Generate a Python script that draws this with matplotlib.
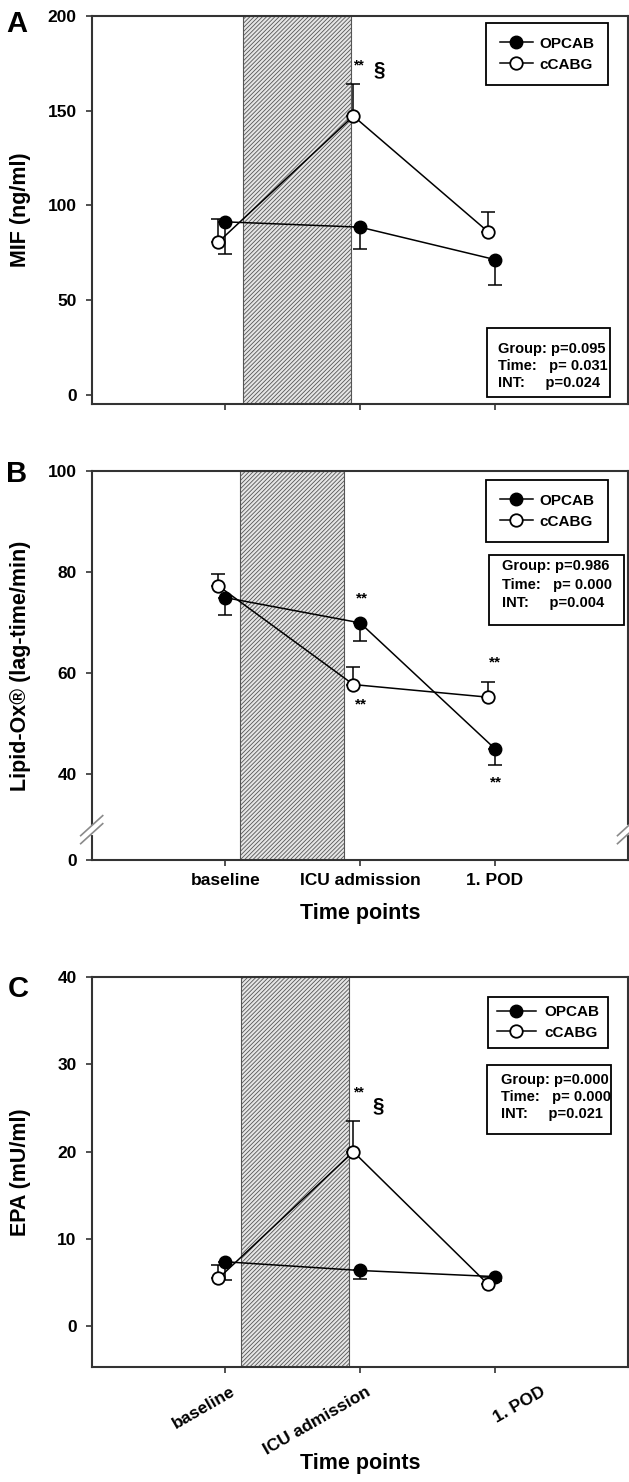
import numpy as np
import matplotlib.pyplot as plt
from matplotlib.patches import Rectangle
from matplotlib.transforms import ScaledTranslation

plt.rcParams['font.family'] = ['Liberation Sans', 'DejaVu Sans']
plt.rcParams['font.weight'] = 'bold'
plt.rcParams['hatch.linewidth'] = 0.6

time_points = ["baseline", "ICU admission", "1. POD"]
x_pos = np.array([1, 2, 3])

# A: MIF (ng/ml), mean and SEM
mif_opcab = [91.3, 88.5, 71.4]
mif_opcab_sem = [16.8, 11.5, 13.3]
mif_ccabg = [80.7, 147.1, 86.0]
mif_ccabg_sem = [12.3, 16.8, 10.4]
mif_stats = ["Group: p=0.095", "Time:   p= 0.031", "INT:     p=0.024"]

# B: Lipid-Ox (lag-time/min)
lox_opcab = [74.9, 69.9, 45.0]
lox_opcab_sem = [3.5, 3.6, 3.2]
lox_ccabg = [77.2, 57.7, 55.2]
lox_ccabg_sem = [2.3, 3.4, 3.0]
lox_stats = ["Group: p=0.986", "Time:   p= 0.000", "INT:     p=0.004"]

# C: EPA (mU/ml)
epa_opcab = [7.4, 6.4, 5.7]
epa_opcab_sem = [2.1, 1.0, 0.5]
epa_ccabg = [5.5, 20.0, 4.8]
epa_ccabg_sem = [1.5, 3.5, 0.8]
epa_stats = ["Group: p=0.000", "Time:   p= 0.000", "INT:     p=0.021"]

SHIFT = -0.05   # cCABG points sit a little left of the tick
LINE = '#333333'


def draw_panel(ax, opcab, opcab_sem, ccabg, ccabg_sem, stats, ylim, ylabel,
               span, leg_top, leg_kw, box, stat_x, stat_ys):
    ax.axvspan(span[0], span[1], facecolor='#e6e6e6', edgecolor='#555555',
               hatch='////////', lw=0.8, zorder=1)
    zeros = np.zeros(3)
    ax.errorbar(x_pos, opcab, yerr=[opcab_sem, zeros], fmt='none', ecolor='black',
                elinewidth=1.1, capsize=4.7, capthick=1.1, zorder=2)
    ax.errorbar(x_pos + SHIFT, ccabg, yerr=[zeros, ccabg_sem], fmt='none', ecolor='black',
                elinewidth=1.1, capsize=4.7, capthick=1.1, zorder=2)
    ax.plot(x_pos, opcab, '-o', color='black', ms=9, lw=1.1, zorder=3, label='OPCAB')
    ax.plot(x_pos + SHIFT, ccabg, '-o', color='black', mfc='white', mec='black',
            mew=1.3, ms=9, lw=1.1, zorder=4, label='cCABG')

    ax.set_xlim(0.01, 3.99)
    ax.set_ylim(*ylim)
    ax.set_xticks(x_pos)
    ax.set_ylabel(ylabel, fontsize=15.5, fontweight='bold')
    ax.yaxis.set_label_coords(-0.113, 0.5)
    for s in ax.spines.values():
        s.set_color(LINE)
        s.set_linewidth(1.5)
    ax.tick_params(axis='y', direction='out', length=4.3, width=1.2, pad=6.5,
                   labelsize=12.5, color=LINE)
    ax.tick_params(axis='x', direction='out', length=4.5, width=1.2, pad=5,
                   labelsize=12.5, color=LINE)

    leg = ax.legend(loc='upper right', bbox_to_anchor=(0.962, leg_top), borderaxespad=0,
                    fancybox=False, edgecolor='black', framealpha=1, fontsize=11,
                    **leg_kw)
    leg.get_frame().set_linewidth(1.3)

    x0, y0, x1, y1 = box
    ax.add_patch(Rectangle((x0, y0), x1 - x0, y1 - y0, transform=ax.transAxes,
                           facecolor='white', edgecolor='black', lw=1.3, zorder=5))
    for line, yy in zip(stats, stat_ys):
        ax.text(stat_x, yy, line, transform=ax.transAxes, fontsize=10.5,
                fontweight='bold', va='center', ha='left', zorder=6)


fig = plt.figure(figsize=(6.29, 14.82), dpi=100)
left, width = 0.1458, 0.8534
axA = fig.add_axes([left, 0.7272, width, 0.2622])
axB = fig.add_axes([left, 0.4197, width, 0.2627])
axC = fig.add_axes([left, 0.0779, width, 0.2628])

wide_leg = dict(handlelength=2.2, handletextpad=0.4, borderpad=0.9, labelspacing=0.45)
tight_leg = dict(handlelength=2.6, handletextpad=0.55, borderpad=0.55, labelspacing=0.45)

# A
draw_panel(axA, mif_opcab, mif_opcab_sem, mif_ccabg, mif_ccabg_sem, mif_stats,
           (-4.9, 200), "MIF (ng/ml)", (1.129, 1.929), 0.981, wide_leg,
           (0.7364, 0.0196, 0.9655, 0.1971), 0.757, (0.1431, 0.0994, 0.0556))
axA.set_yticks([0, 50, 100, 150, 200])
axA.set_xticklabels([])
axA.text(1.984, 171.5, "**", fontsize=10, ha='center', va='baseline')
axA.text(2.143, 168.5, "§", fontsize=15, ha='center', va='baseline')

# B (broken y axis: 0 shown at the bottom, 30..100 linear)
draw_panel(axB, lox_opcab, lox_opcab_sem, lox_ccabg, lox_ccabg_sem, lox_stats,
           (23, 100), "Lipid-Ox® (lag-time/min)", (1.108, 1.882), 0.976, wide_leg,
           (0.740, 0.6036, 0.9914, 0.7835), 0.7643, (0.754, 0.707, 0.661))
axB.set_yticks([23, 40, 60, 80, 100])
axB.set_yticklabels(['0', '40', '60', '80', '100'])
axB.set_xticklabels(time_points)
axB.set_xlabel("Time points", fontsize=15.5, fontweight='bold')
axB.xaxis.set_label_coords(0.5, -0.110)
axB.text(2.013, 73.9, "**", fontsize=11, ha='center', va='baseline')
axB.text(2.01, 52.9, "**", fontsize=11, ha='center', va='baseline')
axB.text(2.998, 61.2, "**", fontsize=11, ha='center', va='baseline')
axB.text(3.01, 37.6, "**", fontsize=11, ha='center', va='baseline')
yb = 0.078
for xs in (0, 1):
    axB.plot([xs, xs], [yb - 0.008, yb + 0.008], color='white', lw=3,
             transform=axB.transAxes, clip_on=False, zorder=7)
    for off in (-0.0103, 0.0103):
        axB.plot([xs - 0.0205, xs + 0.0205], [yb - 0.0257 + off, yb + 0.0257 + off],
                 color='#8a8a8a', lw=1.2, transform=axB.transAxes, clip_on=False, zorder=8)

# C
draw_panel(axC, epa_opcab, epa_opcab_sem, epa_ccabg, epa_ccabg_sem, epa_stats,
           (-4.6, 40), "EPA (mU/ml)", (1.117, 1.917), 0.950, tight_leg,
           (0.7364, 0.5964, 0.9676, 0.7748), 0.7625, (0.7356, 0.6909, 0.6475))
axC.set_yticks([0, 10, 20, 30, 40])
axC.set_xticklabels(time_points, rotation=30, ha='right', va='top', rotation_mode='anchor')
axC.tick_params(axis='x', pad=8)
shifts = [0.05, 0.05, 0.45]
for lab, dx in zip(axC.get_xticklabels(), shifts):
    lab.set_transform(lab.get_transform() + ScaledTranslation(dx, 0, fig.dpi_scale_trans))
axC.set_xlabel("Time points", fontsize=15.5, fontweight='bold')
axC.xaxis.set_label_coords(0.5, -0.222)
axC.text(1.984, 26.3, "**", fontsize=10, ha='center', va='baseline')
axC.text(2.136, 24.6, "§", fontsize=15, ha='center', va='baseline')

fig.text(6 / 629, 1 - 32 / 1482, "A", fontsize=21, fontweight='bold', va='baseline')
fig.text(6 / 629, 1 - 482 / 1482, "B", fontsize=21, fontweight='bold', va='baseline')
fig.text(8 / 629, 1 - 997 / 1482, "C", fontsize=21, fontweight='bold', va='baseline')

fig.savefig("out.png", dpi=100)
